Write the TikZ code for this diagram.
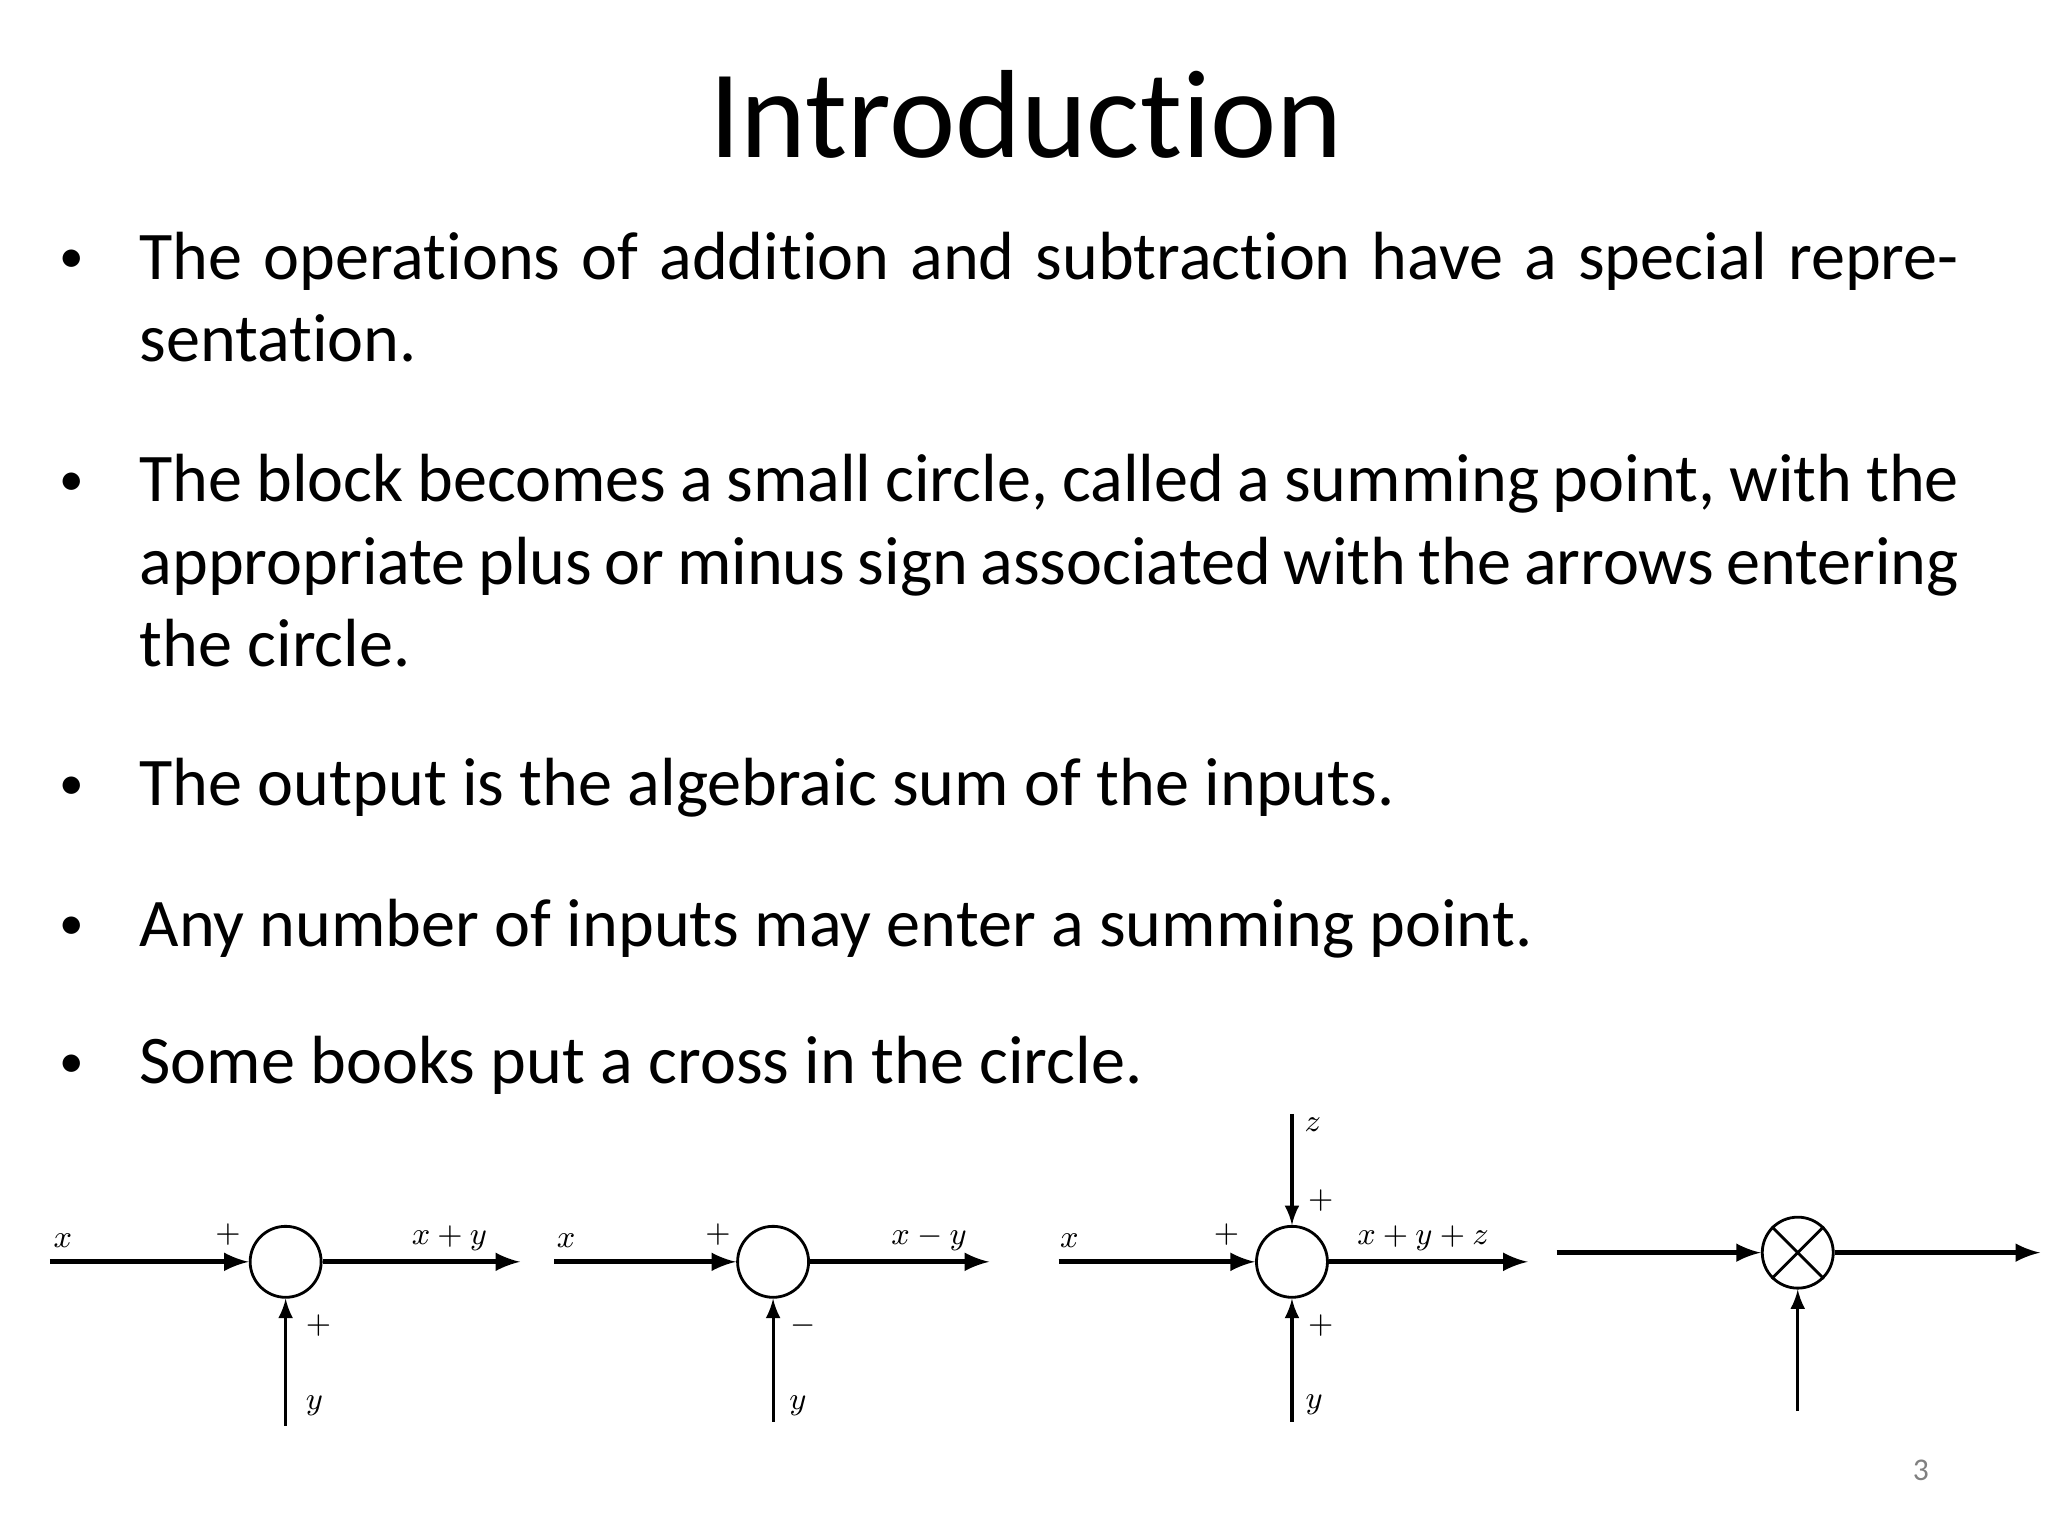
\documentclass[tikz,border=0pt]{standalone}
\usepackage{fontspec}
\setmainfont{Carlito}[Ligatures=NoCommon]
\usetikzlibrary{arrows.meta}
\tikzset{>=latex}
\tikzstyle{sumpt}=[draw,thick,circle,minimum size=0.71cm,inner sep=0pt]
\tikzstyle{mainline}=[->,line width=1.4pt]
\tikzstyle{sideline}=[->,line width=0.9pt]
\tikzstyle{lbl}=[inner sep=0pt,font=\small]
\tikzstyle{bodytext}=[anchor=base west,inner sep=0pt,text width=18.2cm,align=justify,
  font=\fontsize{19.4}{23.4}\selectfont]
\tikzstyle{bullet}=[anchor=base,inner sep=0pt,font=\fontsize{14}{16}\selectfont]
\def\bul#1{\node[bullet] at (55,#1) {•};}

\begin{document}
\begin{tikzpicture}[x=0.0131cm,y=-0.0131cm]
  \useasboundingbox (0,0) rectangle (1563,1172);

  % TITLE
  \node[anchor=base,inner sep=0pt,font=\fontsize{35.7}{38}\selectfont] (title) at (783,120) {Introduction};

  % BULLETS
  \bul{208} \bul{378} \bul{610} \bul{717} \bul{822}
  \node[bodytext] (b1) at (106,213) {The operations of addition and subtraction have a special representation.};
  \node[bodytext] (b2) at (106,383) {The block becomes a small circle, called a summing point, with the appropriate plus or minus sign associated with the arrows entering the circle.};
  \node[bodytext] (b3) at (106,615) {The output is the algebraic sum of the inputs.};
  \node[bodytext] (b4) at (106,722) {Any number of inputs may enter a summing point.};
  \node[bodytext] (b5) at (106,827) {Some books put a cross in the circle.};

  % SUMMING POINT x+y
  \node[sumpt] (s1) at (218,963) {};
  \coordinate (s1in) at (38,963);
  \coordinate (s1out) at (397,963);
  \coordinate (s1y) at (218,1088);
  \draw[mainline] (s1in) -- (s1.west);
  \draw[mainline] (s1.east) -- (s1out);
  \draw[sideline] (s1y) -- (s1.south);
  \node[lbl] at (48,947) {$x$};
  \node[lbl] at (174,942) {$+$};
  \node[lbl] at (343,945) {$x+y$};
  \node[lbl] at (243,1012) {$+$};
  \node[lbl] at (240,1073) {$y$};

  % SUMMING POINT x-y
  \node[sumpt] (s2) at (590,963) {};
  \coordinate (s2in) at (423,963);
  \coordinate (s2out) at (755,963);
  \coordinate (s2y) at (590,1085);
  \draw[mainline] (s2in) -- (s2.west);
  \draw[mainline] (s2.east) -- (s2out);
  \draw[sideline] (s2y) -- (s2.south);
  \node[lbl] at (432,947) {$x$};
  \node[lbl] at (548,942) {$+$};
  \node[lbl] at (709,945) {$x-y$};
  \node[lbl] at (613,1012) {$-$};
  \node[lbl] at (609,1073) {$y$};

  % SUMMING POINT x+y+z
  \node[sumpt] (s3) at (986,963) {};
  \coordinate (s3in) at (808,963);
  \coordinate (s3out) at (1166,963);
  \coordinate (s3y) at (986,1085);
  \coordinate (s3z) at (986,850);
  \draw[mainline] (s3in) -- (s3.west);
  \draw[mainline] (s3.east) -- (s3out);
  \draw[sideline] (s3y) -- (s3.south);
  \draw[sideline] (s3z) -- (s3.north);
  \node[lbl] at (1002,858) {$z$};
  \node[lbl] at (1008,916) {$+$};
  \node[lbl] at (816,947) {$x$};
  \node[lbl] at (936,942) {$+$};
  \node[lbl] at (1086,945) {$x+y+z$};
  \node[lbl] at (1008,1012) {$+$};
  \node[lbl] at (1003,1072) {$y$};

  % CROSS CIRCLE
  \node[sumpt] (s4) at (1372,956) {};
  \draw[thick] (s4.45) -- (s4.225) (s4.135) -- (s4.315);
  \coordinate (s4in) at (1188,956);
  \coordinate (s4out) at (1557,956);
  \coordinate (s4y) at (1372,1077);
  \draw[mainline] (s4in) -- (s4.west);
  \draw[mainline] (s4.east) -- (s4out);
  \draw[sideline] (s4y) -- (s4.south);

  % PAGE NUMBER
  \node[inner sep=0pt,text=gray,font=\small] (pg) at (1466,1122) {3};
\end{tikzpicture}
\end{document}
